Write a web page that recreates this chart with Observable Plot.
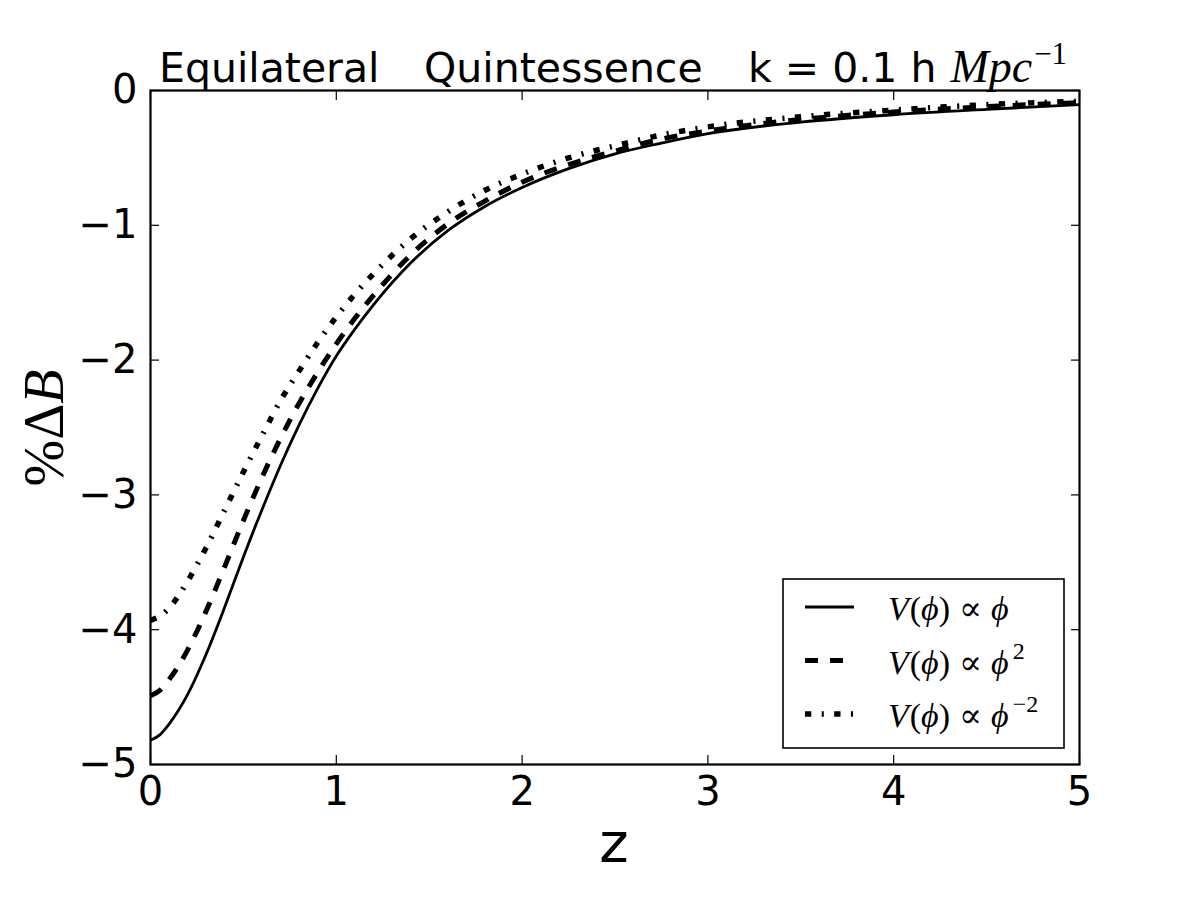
<!DOCTYPE html>
<html>
<head>
<meta charset="utf-8">
<script src="https://cdn.jsdelivr.net/npm/d3@7"></script>
<script src="https://cdn.jsdelivr.net/npm/@observablehq/plot@0.6"></script>
<style>
  html, body { margin: 0; padding: 0; background: #ffffff; }
  #chart { width: 1200px; height: 900px; }
  #chart svg { display: block; }
</style>
</head>
<body>
<div id="chart"></div>
<script>
// ---- data ----
const zValues = [0, 0.05, 0.1, 0.15, 0.2, 0.3, 0.4, 0.5, 0.6, 0.7, 0.8, 0.9, 1.0, 1.1, 1.2, 1.4, 1.6, 1.8, 2.0, 2.25, 2.5, 2.75, 3.0, 3.5, 4.0, 4.5, 5.0];
const linearPhi = [-4.82, -4.78, -4.70, -4.60, -4.48, -4.18, -3.83, -3.46, -3.11, -2.78, -2.48, -2.21, -1.97, -1.77, -1.59, -1.28, -1.04, -0.86, -0.72, -0.58, -0.47, -0.39, -0.32, -0.235, -0.18, -0.14, -0.105];
const quadPhi   = [-4.49, -4.45, -4.37, -4.27, -4.15, -3.86, -3.53, -3.19, -2.87, -2.58, -2.32, -2.09, -1.88, -1.69, -1.52, -1.22, -0.99, -0.82, -0.68, -0.55, -0.45, -0.36, -0.30, -0.215, -0.16, -0.12, -0.09];
const invPhi    = [-3.93, -3.90, -3.84, -3.75, -3.64, -3.39, -3.11, -2.83, -2.56, -2.30, -2.08, -1.87, -1.68, -1.51, -1.36, -1.10, -0.90, -0.74, -0.62, -0.50, -0.41, -0.33, -0.27, -0.195, -0.145, -0.105, -0.08];
const seriesExponents = ["", "2", "−2"];
const xTicks = [0, 1, 2, 3, 4, 5];
const yTicks = [0, -1, -2, -3, -4, -5];
const titleWords = ["Equilateral", "Quintessence", "k = 0.1 h"];
const titleUnit = "Mpc";
const titleUnitExp = "−1";
const xLabel = "z";

// ---- styles / layout ----
const seriesStyles = [
  { strokeWidth: 2.8, strokeDasharray: null },
  { strokeWidth: 5, strokeDasharray: "13,12" },
  { strokeWidth: 5.5, strokeDasharray: "6.3,10.4,2.1,10.4" }
];
const titleWordX = [159, 424, 748];
const seriesValues = [linearPhi, quadPhi, invPhi];
const seriesData = seriesValues.map((vals, i) => zValues.map((z, j) => ({ z, v: vals[j], s: i })));
const fmt = d => String(d).replace("-", "−");

const plot = Plot.plot({
  width: 1200,
  height: 900,
  marginLeft: 150,
  marginRight: 121,
  marginTop: 90,
  marginBottom: 136,
  style: { fontFamily: "DejaVu Sans", fontSize: "40px", color: "black", background: "white" },
  x: { domain: [0, 5] },
  y: { domain: [-5, 0] },
  marks: [
    ...seriesData.map((d, i) => Plot.line(d, {
      x: "z", y: "v", stroke: "black",
      strokeWidth: seriesStyles[i].strokeWidth,
      strokeDasharray: seriesStyles[i].strokeDasharray,
      strokeLinecap: "butt", strokeLinejoin: "round",
      curve: "monotone-x"
    })),
    Plot.frame({ stroke: "black", strokeWidth: 2.2 }),
    // inward ticks on all four sides
    Plot.axisX({ ticks: xTicks, anchor: "bottom", tickSize: -9, tickFormat: () => "", label: null, strokeWidth: 1.2 }),
    Plot.axisX({ ticks: xTicks, anchor: "top", tickSize: -9, tickFormat: () => "", label: null, strokeWidth: 1.2 }),
    Plot.axisY({ ticks: yTicks, anchor: "left", tickSize: -9, tickFormat: () => "", label: null, strokeWidth: 1.2 }),
    Plot.axisY({ ticks: yTicks, anchor: "right", tickSize: -9, tickFormat: () => "", label: null, strokeWidth: 1.2 }),
    // tick labels
    Plot.axisX({ ticks: xTicks, anchor: "bottom", tickSize: 0, tickPadding: 12, label: null, fontSize: 40, tickFormat: fmt }),
    Plot.axisY({ ticks: yTicks, anchor: "left", tickSize: 0, tickPadding: 13, label: null, fontSize: 40, tickFormat: fmt })
  ]
});

document.getElementById("chart").appendChild(plot);

const svg = d3.select(plot);
const serif = "'Liberation Serif', 'DejaVu Serif', serif";

// title
const title = svg.append("text")
  .attr("y", 82)
  .attr("text-anchor", "start")
  .attr("font-family", "DejaVu Sans").attr("font-size", 41)
  .attr("fill", "black");
titleWords.forEach((w, i) => title.append("tspan").attr("x", titleWordX[i]).text(w));
title.append("tspan").attr("font-family", serif).attr("font-style", "italic").attr("font-size", 46).attr("dx", 14).text(titleUnit);
title.append("tspan").attr("font-family", serif).attr("font-size", 31).attr("dy", -18).attr("dx", 2).text(titleUnitExp);

// x label
svg.append("text")
  .attr("x", 614).attr("y", 862)
  .attr("text-anchor", "middle")
  .attr("font-family", "DejaVu Sans").attr("font-size", 56)
  .attr("fill", "black")
  .text(xLabel);

// y label  %ΔB
const yl = svg.append("text")
  .attr("transform", "translate(63,428) rotate(-90)")
  .attr("text-anchor", "middle")
  .attr("font-family", serif).attr("font-size", 56)
  .attr("fill", "black");
yl.append("tspan").text("%Δ");
yl.append("tspan").attr("font-style", "italic").text("B");

// legend
const lg = svg.append("g").attr("transform", "translate(783,579)");
lg.append("rect").attr("width", 281).attr("height", 169)
  .attr("fill", "white").attr("stroke", "black").attr("stroke-width", 1.6);
seriesStyles.forEach((st, i) => {
  const y = 28 + 53.5 * i;
  lg.append("line")
    .attr("x1", 22).attr("x2", 71).attr("y1", y).attr("y2", y)
    .attr("stroke", "black").attr("stroke-width", st.strokeWidth)
    .attr("stroke-dasharray", st.strokeDasharray)
    .attr("stroke-linecap", "butt");
  const t = lg.append("text")
    .attr("x", 105).attr("y", y + 13)
    .attr("text-anchor", "start")
    .attr("font-family", serif).attr("font-size", 34)
    .attr("fill", "black");
  t.append("tspan").attr("font-style", "italic").text("V");
  t.append("tspan").attr("dx", 1).text("(");
  t.append("tspan").attr("font-style", "italic").text("ϕ");
  t.append("tspan").text(")");
  t.append("tspan").attr("dx", 9).text("∝");
  t.append("tspan").attr("dx", 9).attr("font-style", "italic").text("ϕ");
  if (seriesExponents[i]) {
    t.append("tspan").attr("font-size", 24).attr("dy", -15).attr("dx", 4).text(seriesExponents[i]);
  }
});
</script>
</body>
</html>
